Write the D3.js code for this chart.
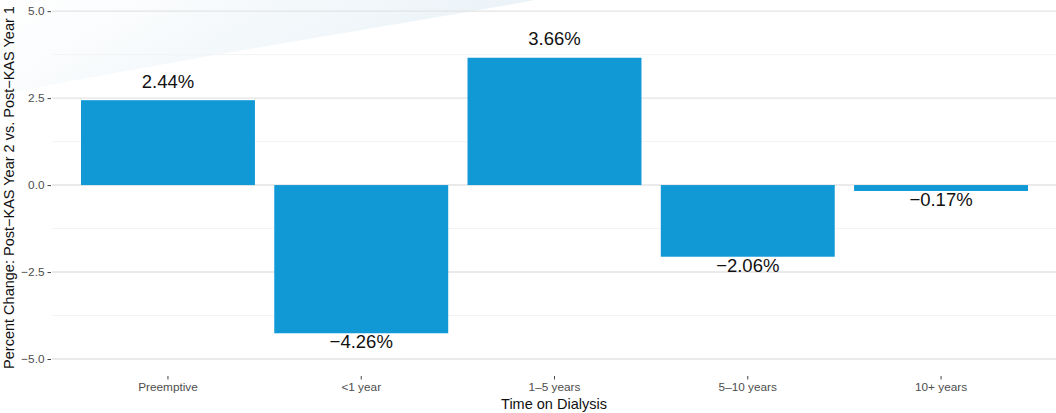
<!DOCTYPE html>
<html>
<head>
<meta charset="utf-8">
<script src="https://cdn.jsdelivr.net/npm/d3@7"></script>
<style>
  body { margin: 0; background: #fff; }
  svg text { font-family: "Liberation Sans", Arial, sans-serif; }
</style>
</head>
<body>
<div id="chart"></div>
<script>
    'use strict';

    const categories = ['Preemptive', '<1 year', '1\u20135 years', '5\u201310 years', '10+ years'];
    const changes = [2.44, -4.26, 3.66, -2.06, -0.17];
    const majorTicks = [-5, -2.5, 0, 2.5, 5];
    const minorTicks = [-3.75, -1.25, 1.25, 3.75];

    const W = 1056, H = 413;
    const panel = { left: 52, right: 1057, top: 0, bottom: 375 };

    const svg = d3.select('#chart').append('svg').attr('width', W).attr('height', H);

    // faint background swoosh
    const defs = svg.append('defs');
    const grad = defs.append('linearGradient').attr('id', 'swoosh')
        .attr('x1', '0').attr('y1', '0').attr('x2', '1').attr('y2', '0.3');
    grad.append('stop').attr('offset', '0%').attr('stop-color', '#f2f6f9').attr('stop-opacity', 0.05);
    grad.append('stop').attr('offset', '50%').attr('stop-color', '#e6f0f6').attr('stop-opacity', 0.45);
    grad.append('stop').attr('offset', '100%').attr('stop-color', '#dfecf4').attr('stop-opacity', 0.7);
    svg.append('path').attr('d', 'M0,0 L535,0 C400,25 200,55 0,95 Z').attr('fill', 'url(#swoosh)');

    const xScale = d3.scaleBand().domain(categories)
        .range([panel.left, panel.right]).paddingInner(0.1).paddingOuter(0.15);
    const yScale = d3.scaleLinear().domain([-5.46, 5.32]).range([panel.bottom, panel.top]);

    // grid
    svg.append('g').selectAll('line').data(minorTicks).join('line')
        .attr('x1', panel.left).attr('x2', W)
        .attr('y1', d => yScale(d)).attr('y2', d => yScale(d))
        .attr('stroke', '#f3f3f3').attr('stroke-width', 1);
    svg.append('g').selectAll('line').data(majorTicks).join('line')
        .attr('x1', panel.left).attr('x2', W)
        .attr('y1', d => yScale(d)).attr('y2', d => yScale(d))
        .attr('stroke', '#e3e3e3').attr('stroke-width', 1.4);

    // bars
    svg.append('g').selectAll('rect').data(changes).join('rect')
        .attr('x', (d, i) => xScale(categories[i]))
        .attr('width', xScale.bandwidth())
        .attr('y', d => yScale(Math.max(0, d)))
        .attr('height', d => Math.abs(yScale(d) - yScale(0)))
        .attr('fill', '#1199d6');

    // value labels
    svg.append('g').selectAll('text').data(changes).join('text')
        .attr('x', (d, i) => xScale(categories[i]) + xScale.bandwidth() / 2)
        .attr('y', d => d >= 0 ? yScale(d) - 19 : yScale(d) + 8.5)
        .attr('dy', '0.35em')
        .attr('text-anchor', 'middle')
        .style('font-size', '18.5px').style('fill', '#111')
        .text(d => d3.format('.2f')(d).replace('-', '\u2212') + '%');

    // y axis
    const yAxis = d3.axisLeft(yScale).tickValues(majorTicks).tickSize(3.5).tickPadding(3)
        .tickFormat(d => d3.format('.1f')(d).replace('-', '\u2212'));
    const gy = svg.append('g').attr('transform', 'translate(' + (panel.left - 1) + ',0)').call(yAxis);
    gy.select('.domain').remove();
    gy.selectAll('line').attr('stroke', '#444');
    gy.selectAll('text').style('font-size', '11.8px').style('fill', '#4d4d4d')
        .style('font-family', '"Liberation Sans", Arial, sans-serif');

    // x axis
    const xAxis = d3.axisBottom(xScale).tickSize(3.5).tickPadding(3);
    const gx = svg.append('g').attr('transform', 'translate(0,' + (panel.bottom + 1) + ')').call(xAxis);
    gx.select('.domain').remove();
    gx.selectAll('line').attr('stroke', '#444');
    gx.selectAll('text').style('font-size', '11.8px').style('fill', '#4d4d4d')
        .style('font-family', '"Liberation Sans", Arial, sans-serif');

    // axis titles
    svg.append('text').attr('x', (panel.left + W) / 2).attr('y', 409)
        .attr('text-anchor', 'middle').style('font-size', '14.5px').style('fill', '#111')
        .text('Time on Dialysis');
    svg.append('text').attr('transform', 'translate(14,' + ((panel.top + panel.bottom) / 2) + ') rotate(-90)')
        .attr('text-anchor', 'middle').style('font-size', '14.5px').style('fill', '#111')
        .text('Percent Change: Post\u2212KAS Year 2 vs. Post\u2212KAS Year 1');
</script>
</body>
</html>
